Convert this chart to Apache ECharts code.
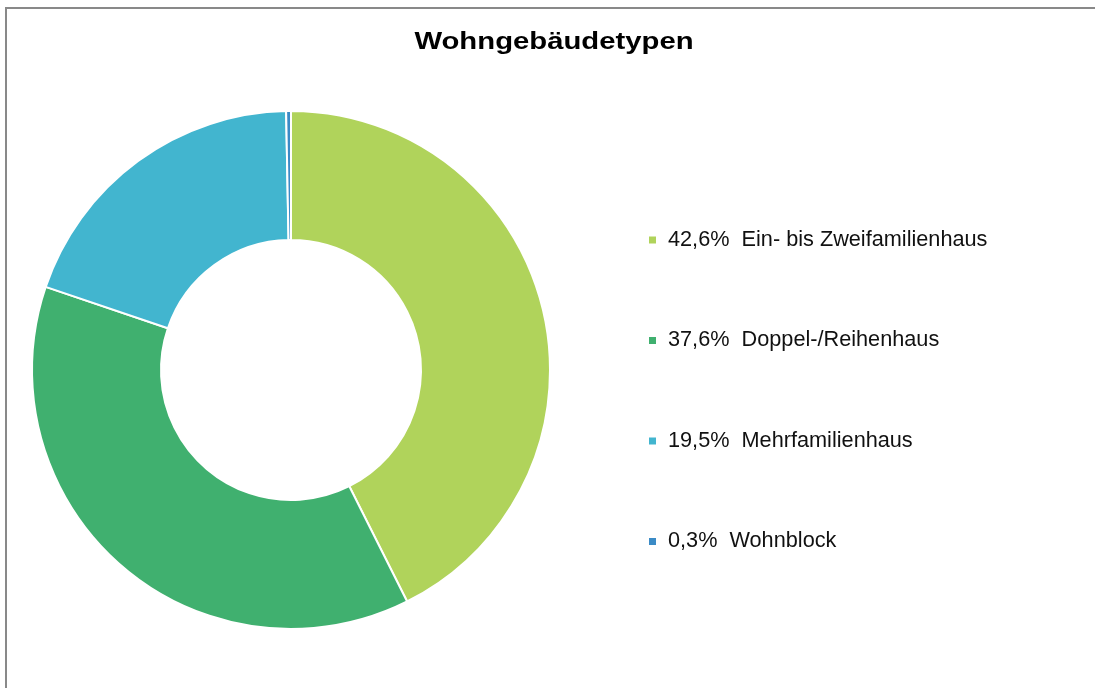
<!DOCTYPE html>
<html>
<head>
<meta charset="utf-8">
<script src="https://cdn.jsdelivr.net/npm/echarts@6/dist/echarts.min.js"></script>
<style>
html,body{margin:0;padding:0;background:#fff;}
#c{width:1095px;height:688px;}
</style>
</head>
<body>
<div id="c"></div>
<script>
const titleText = 'Wohngebäudetypen';
const categories = ['Ein- bis Zweifamilienhaus', 'Doppel-/Reihenhaus', 'Mehrfamilienhaus', 'Wohnblock'];
const values = [42.6, 37.6, 19.5, 0.3];
const percentLabels = ['42,6%', '37,6%', '19,5%', '0,3%'];
const colors = ['#b0d35b', '#40b06f', '#42b5cf', '#3b8bc6'];

const chart = echarts.init(document.getElementById('c'), null, {renderer: 'canvas'});
const labelByName = {};
categories.forEach((c, i) => { labelByName[c] = percentLabels[i]; });

chart.setOption({
  animation: false,
  backgroundColor: '#fff',
  color: colors,
  graphic: [{
    type: 'rect',
    shape: {x: 6, y: 8, width: 1200, height: 800},
    style: {fill: 'none', stroke: '#898989', lineWidth: 2},
    silent: true
  }, {
    type: 'text',
    x: 554,
    y: 42,
    scaleX: 1.22,
    silent: true,
    style: {
      text: titleText,
      font: 'bold 24px "Liberation Sans", Arial, sans-serif',
      fill: '#000',
      align: 'center',
      verticalAlign: 'middle'
    }
  }],
  legend: {
    orient: 'vertical',
    left: 644,
    top: 224,
    itemWidth: 7,
    itemHeight: 7,
    itemGap: 78.5,
    icon: 'rect',
    itemStyle: {borderWidth: 0},
    formatter: name => labelByName[name] + '  ' + name,
    textStyle: {fontFamily: 'Liberation Sans, Arial, sans-serif', fontSize: 21.7, color: '#111', lineHeight: 22, padding: [0, 0, 0, 7]}
  },
  series: [{
    type: 'pie',
    center: [291, 370],
    radius: [130, 259],
    startAngle: 90,
    clockwise: true,
    label: {show: false},
    labelLine: {show: false},
    itemStyle: {borderColor: '#fff', borderWidth: 2},
    emphasis: {disabled: true},
    data: categories.map((c, i) => ({name: c, value: values[i]}))
  }]
});
</script>
</body>
</html>
